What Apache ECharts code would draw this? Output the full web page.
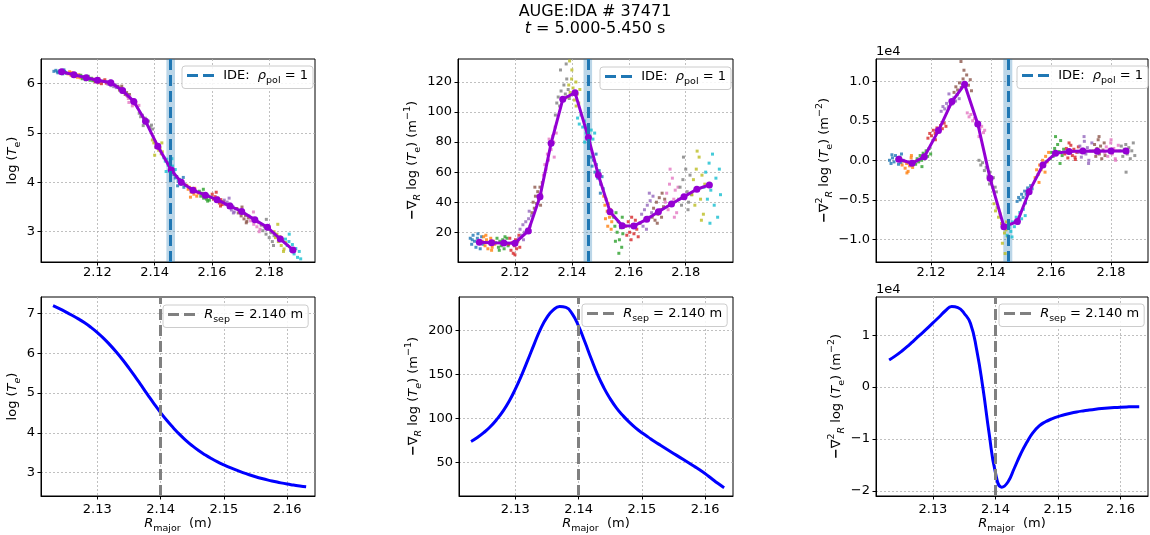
<!DOCTYPE html>
<html><head><meta charset="utf-8">
<script src="https://cdn.jsdelivr.net/npm/echarts@6/dist/echarts.min.js"></script>
<style>html,body{margin:0;padding:0;background:#fff}#c{width:1150px;height:535px}</style>
</head><body><div id="c"></div>
<script>
const FONT = 'DejaVu Sans';
const tab10 = ['#1f77b4','#ff7f0e','#2ca02c','#d62728','#9467bd','#8c564b','#e377c2','#7f7f7f','#bcbd22','#17becf'];

// ---------- top row: measured clouds (one array per channel) ----------
const teCloud = [
[[2.1048,6.25],[2.1055,6.27],[2.1062,6.22],[2.1068,6.26],[2.1074,6.24],[2.1079,6.20],[2.1083,6.28],[2.1088,6.23],[2.1092,6.21],[2.1060,6.24],[2.1085,6.25]],
[[2.1097,6.20],[2.1103,6.24],[2.1108,6.17],[2.1114,6.21],[2.1119,6.15],[2.1124,6.19],[2.1130,6.13],[2.1135,6.18],[2.1140,6.12],[2.1110,6.22]],
[[2.1142,6.17],[2.1147,6.10],[2.1152,6.14],[2.1158,6.08],[2.1163,6.12],[2.1168,6.15],[2.1174,6.07],[2.1179,6.11],[2.1184,6.06],[2.1160,6.13]],
[[2.1187,6.09],[2.1192,6.04],[2.1198,6.07],[2.1203,6.02],[2.1209,6.06],[2.1214,6.00],[2.1220,6.05],[2.1226,6.08],[2.1231,6.01],[2.1205,6.10]],
[[2.1232,6.04],[2.1237,5.99],[2.1242,6.02],[2.1247,5.96],[2.1252,6.01],[2.1257,5.94],[2.1262,5.98],[2.1266,5.92],[2.1270,5.95],[2.1245,6.05]],
[[2.1272,5.94],[2.1277,5.87],[2.1282,5.91],[2.1287,5.83],[2.1292,5.87],[2.1297,5.78],[2.1302,5.82],[2.1307,5.74],[2.1312,5.78],[2.1285,5.95]],
[[2.1302,5.76],[2.1308,5.70],[2.1313,5.74],[2.1319,5.64],[2.1324,5.68],[2.1330,5.58],[2.1335,5.62],[2.1340,5.52],[2.1345,5.56],[2.1322,5.55],[2.1310,5.62]],
[[2.1346,5.40],[2.1351,5.33],[2.1357,5.36],[2.1362,5.26],[2.1367,5.30],[2.1373,5.19],[2.1378,5.24],[2.1384,5.12],[2.1389,5.16],[2.1393,5.08],[2.1360,5.15]],
[[2.1392,4.86],[2.1397,4.80],[2.1401,4.83],[2.1405,4.72],[2.1410,4.76],[2.1414,4.65],[2.1419,4.69],[2.1423,4.58],[2.1427,4.62],[2.1400,4.55],[2.1425,4.80]],
[[2.1432,4.50],[2.1437,4.43],[2.1442,4.47],[2.1447,4.35],[2.1452,4.40],[2.1457,4.29],[2.1462,4.33],[2.1467,4.22],[2.1472,4.26],[2.1440,4.22],[2.1460,4.48]],
[[2.1467,4.16],[2.1472,4.09],[2.1477,4.12],[2.1482,4.02],[2.1487,4.06],[2.1492,3.96],[2.1497,4.00],[2.1502,3.90],[2.1507,3.94],[2.1480,3.93],[2.1500,4.10]],
[[2.1512,3.94],[2.1517,3.86],[2.1522,3.90],[2.1527,3.80],[2.1532,3.85],[2.1537,3.76],[2.1542,3.82],[2.1547,3.72],[2.1552,3.78],[2.1525,3.70],[2.1540,3.88]],
[[2.1556,3.82],[2.1561,3.72],[2.1566,3.78],[2.1571,3.68],[2.1576,3.75],[2.1581,3.66],[2.1586,3.73],[2.1591,3.64],[2.1596,3.70],[2.1570,3.86],[2.1585,3.62]],
[[2.1601,3.76],[2.1606,3.66],[2.1611,3.71],[2.1616,3.62],[2.1621,3.68],[2.1626,3.58],[2.1631,3.65],[2.1636,3.55],[2.1641,3.61],[2.1615,3.80],[2.1630,3.52]],
[[2.1643,3.64],[2.1648,3.55],[2.1653,3.60],[2.1658,3.49],[2.1663,3.56],[2.1668,3.44],[2.1673,3.51],[2.1678,3.40],[2.1683,3.47],[2.1660,3.68],[2.1675,3.38]],
[[2.1687,3.47],[2.1692,3.38],[2.1697,3.43],[2.1702,3.32],[2.1707,3.38],[2.1712,3.26],[2.1717,3.33],[2.1722,3.21],[2.1727,3.28],[2.1705,3.50],[2.1720,3.18]],
[[2.1729,3.32],[2.1735,3.22],[2.1740,3.28],[2.1746,3.15],[2.1751,3.24],[2.1757,3.10],[2.1762,3.18],[2.1768,3.05],[2.1773,3.13],[2.1745,3.40],[2.1765,3.00]],
[[2.1772,3.14],[2.1778,3.02],[2.1783,3.10],[2.1789,2.95],[2.1794,3.05],[2.1800,2.88],[2.1806,2.98],[2.1811,2.80],[2.1817,2.92],[2.1790,3.25],[2.1815,2.72]],
[[2.1817,3.00],[2.1822,2.88],[2.1827,2.95],[2.1832,2.80],[2.1837,2.90],[2.1842,2.72],[2.1847,2.84],[2.1852,2.65],[2.1857,2.78],[2.1830,3.15],[2.1850,2.60]],
[[2.1857,2.85],[2.1863,2.72],[2.1869,2.80],[2.1875,2.62],[2.1881,2.74],[2.1887,2.55],[2.1893,2.66],[2.1899,2.48],[2.1905,2.60],[2.1870,2.95],[2.1910,2.45]]
];
const gradCloud = [
[[2.1043,16],[2.1048,12],[2.1053,18],[2.1058,14],[2.1063,10],[2.1068,16],[2.1073,13],[2.1078,9],[2.1083,17],[2.1088,12],[2.1050,15],[2.1070,19]],
[[2.1085,14],[2.1090,17],[2.1095,11],[2.1100,15],[2.1105,9],[2.1110,13],[2.1115,16],[2.1120,10],[2.1125,14],[2.1129,12],[2.1098,18],[2.1118,8]],
[[2.1132,13],[2.1137,16],[2.1142,10],[2.1147,14],[2.1152,11],[2.1157,15],[2.1162,9],[2.1167,13],[2.1172,16],[2.1176,11],[2.1145,8],[2.1165,17]],
[[2.1178,12],[2.1182,16],[2.1186,8],[2.1190,13],[2.1194,6],[2.1198,11],[2.1202,15],[2.1206,9],[2.1210,14],[2.1214,18],[2.1217,10],[2.1200,5]],
[[2.1213,16],[2.1218,22],[2.1223,18],[2.1228,25],[2.1233,20],[2.1238,27],[2.1243,22],[2.1248,29],[2.1253,24],[2.1258,31],[2.1230,15],[2.1250,34]],
[[2.1260,33],[2.1264,40],[2.1268,36],[2.1272,44],[2.1276,39],[2.1280,47],[2.1284,42],[2.1288,50],[2.1292,45],[2.1296,53],[2.1270,50],[2.1290,38]],
[[2.1300,58],[2.1305,65],[2.1309,62],[2.1314,72],[2.1318,68],[2.1323,78],[2.1327,75],[2.1332,84],[2.1336,80],[2.1341,90],[2.1345,86],[2.1320,82],[2.1338,70]],
[[2.1342,98],[2.1347,106],[2.1352,110],[2.1357,104],[2.1362,114],[2.1367,108],[2.1372,118],[2.1377,112],[2.1382,122],[2.1387,115],[2.1391,109],[2.1360,128],[2.1380,132]],
[[2.1384,110],[2.1389,118],[2.1394,113],[2.1399,122],[2.1404,116],[2.1409,108],[2.1414,120],[2.1419,112],[2.1424,106],[2.1428,115],[2.1400,128],[2.1392,134],[2.1415,104]],
[[2.1420,96],[2.1426,92],[2.1432,98],[2.1438,90],[2.1444,94],[2.1450,86],[2.1456,91],[2.1462,84],[2.1468,88],[2.1474,82],[2.1480,86],[2.1445,80]],
[[2.1466,70],[2.1471,64],[2.1476,68],[2.1481,60],[2.1486,65],[2.1491,56],[2.1496,61],[2.1501,52],[2.1506,57],[2.1510,49],[2.1485,72],[2.1500,46]],
[[2.1512,44],[2.1516,38],[2.1520,42],[2.1524,34],[2.1528,39],[2.1532,30],[2.1536,35],[2.1540,27],[2.1544,31],[2.1526,24],[2.1538,22],[2.1518,29]],
[[2.1547,30],[2.1551,24],[2.1555,33],[2.1559,20],[2.1563,27],[2.1567,15],[2.1571,23],[2.1575,10],[2.1579,19],[2.1565,6],[2.1553,14],[2.1577,30]],
[[2.1588,24],[2.1593,18],[2.1598,27],[2.1603,20],[2.1608,15],[2.1613,25],[2.1618,19],[2.1623,28],[2.1628,22],[2.1633,17],[2.1638,26],[2.1610,30]],
[[2.1640,26],[2.1645,32],[2.1650,24],[2.1655,35],[2.1660,28],[2.1665,38],[2.1670,30],[2.1675,41],[2.1680,33],[2.1685,44],[2.1662,22],[2.1672,46]],
[[2.1682,30],[2.1687,36],[2.1692,28],[2.1697,40],[2.1702,32],[2.1707,43],[2.1712,35],[2.1717,46],[2.1722,37],[2.1726,42],[2.1700,26],[2.1715,30]],
[[2.1728,40],[2.1733,46],[2.1738,35],[2.1743,52],[2.1748,38],[2.1753,56],[2.1758,42],[2.1763,48],[2.1768,33],[2.1773,50],[2.1745,62],[2.1760,30]],
[[2.1775,42],[2.1780,50],[2.1785,38],[2.1790,55],[2.1795,44],[2.1800,62],[2.1805,47],[2.1810,40],[2.1815,58],[2.1820,45],[2.1792,70],[2.1808,35]],
[[2.1822,45],[2.1827,55],[2.1832,38],[2.1837,62],[2.1842,48],[2.1847,70],[2.1852,42],[2.1857,58],[2.1862,32],[2.1867,52],[2.1840,74],[2.1855,28]],
[[2.1864,50],[2.1870,60],[2.1876,42],[2.1882,66],[2.1888,48],[2.1894,72],[2.1900,38],[2.1906,56],[2.1912,30],[2.1918,62],[2.1885,26],[2.1922,45]]
];
// second derivative, in units of 1e4 m^-2
const curvCloud = [
[[2.1062,0.00],[2.1067,-0.04],[2.1072,0.03],[2.1077,-0.02],[2.1082,0.06],[2.1087,0.01],[2.1092,-0.05],[2.1097,0.04],[2.1102,0.08],[2.1107,0.00],[2.1070,0.07],[2.1100,-0.03]],
[[2.1099,0.02],[2.1104,-0.06],[2.1109,-0.01],[2.1114,-0.10],[2.1119,-0.04],[2.1124,-0.14],[2.1129,-0.07],[2.1134,0.03],[2.1139,-0.09],[2.1144,-0.02],[2.1120,-0.16],[2.1135,0.06]],
[[2.1149,-0.05],[2.1154,0.02],[2.1159,-0.02],[2.1164,0.06],[2.1169,0.00],[2.1174,0.09],[2.1179,0.03],[2.1184,0.12],[2.1189,0.05],[2.1194,0.15],[2.1199,0.08],[2.1170,-0.08]],
[[2.1190,0.28],[2.1196,0.34],[2.1202,0.31],[2.1208,0.38],[2.1214,0.34],[2.1220,0.41],[2.1226,0.37],[2.1232,0.44],[2.1238,0.40],[2.1244,0.47],[2.1250,0.43],[2.1215,0.26]],
[[2.1234,0.62],[2.1240,0.68],[2.1246,0.65],[2.1252,0.72],[2.1258,0.68],[2.1264,0.76],[2.1270,0.71],[2.1276,0.79],[2.1282,0.75],[2.1288,0.83],[2.1294,0.78],[2.1260,0.84]],
[[2.1277,0.86],[2.1283,0.93],[2.1289,0.89],[2.1295,0.98],[2.1301,0.92],[2.1307,1.03],[2.1313,0.96],[2.1319,1.08],[2.1325,0.95],[2.1331,1.02],[2.1335,0.88],[2.1310,1.14],[2.1300,1.25]],
[[2.1321,0.60],[2.1327,0.55],[2.1333,0.58],[2.1339,0.50],[2.1345,0.53],[2.1351,0.45],[2.1357,0.48],[2.1363,0.40],[2.1369,0.43],[2.1375,0.35],[2.1379,0.38],[2.1360,0.30]],
[[2.1360,0.00],[2.1366,-0.06],[2.1372,-0.03],[2.1378,-0.13],[2.1384,-0.09],[2.1390,-0.20],[2.1396,-0.15],[2.1402,-0.27],[2.1408,-0.22],[2.1414,-0.34],[2.1418,-0.40],[2.1395,-0.30]],
[[2.1410,-0.55],[2.1415,-0.64],[2.1420,-0.60],[2.1425,-0.72],[2.1430,-0.68],[2.1435,-0.80],[2.1440,-0.85],[2.1445,-0.92],[2.1450,-0.88],[2.1455,-0.96],[2.1438,-1.05],[2.1447,-1.18],[2.1452,-0.78]],
[[2.1454,-0.95],[2.1460,-0.85],[2.1466,-0.90],[2.1472,-0.78],[2.1478,-0.84],[2.1484,-0.72],[2.1490,-0.80],[2.1496,-0.66],[2.1502,-0.74],[2.1508,-0.62],[2.1514,-0.70],[2.1470,-0.97]],
[[2.1487,-0.52],[2.1492,-0.47],[2.1497,-0.50],[2.1502,-0.43],[2.1507,-0.47],[2.1512,-0.39],[2.1517,-0.43],[2.1522,-0.35],[2.1527,-0.40],[2.1532,-0.32],[2.1537,-0.36],[2.1515,-0.54]],
[[2.1547,-0.22],[2.1552,-0.12],[2.1557,-0.18],[2.1562,-0.06],[2.1567,-0.12],[2.1572,0.00],[2.1577,-0.07],[2.1582,0.05],[2.1587,-0.02],[2.1592,0.10],[2.1560,-0.28],[2.1580,-0.15]],
[[2.1597,0.02],[2.1602,0.10],[2.1607,0.05],[2.1612,0.15],[2.1617,0.08],[2.1622,0.20],[2.1627,0.11],[2.1632,0.25],[2.1637,0.06],[2.1642,0.14],[2.1615,0.30],[2.1630,-0.04]],
[[2.1646,0.08],[2.1651,0.15],[2.1656,0.03],[2.1661,0.12],[2.1666,0.19],[2.1671,0.06],[2.1676,0.14],[2.1681,0.01],[2.1686,0.10],[2.1691,0.17],[2.1660,0.22],[2.1680,0.04]],
[[2.1691,0.10],[2.1696,0.18],[2.1701,0.04],[2.1706,0.14],[2.1711,0.24],[2.1716,0.08],[2.1721,0.16],[2.1726,0.00],[2.1731,0.12],[2.1736,0.22],[2.1710,0.30],[2.1725,-0.04]],
[[2.1741,0.12],[2.1745,0.20],[2.1749,0.05],[2.1753,0.15],[2.1757,0.26],[2.1761,0.08],[2.1765,0.18],[2.1769,0.02],[2.1773,0.13],[2.1777,0.22],[2.1760,0.30],[2.1780,0.06]],
[[2.1779,0.10],[2.1784,0.17],[2.1789,0.05],[2.1794,0.14],[2.1799,0.22],[2.1804,0.08],[2.1809,0.15],[2.1814,0.02],[2.1819,0.12],[2.1824,0.19],[2.1800,0.26],[2.1815,0.00]],
[[2.1829,0.12],[2.1834,0.18],[2.1839,0.05],[2.1844,0.14],[2.1849,0.20],[2.1854,0.08],[2.1859,0.16],[2.1864,0.02],[2.1869,0.12],[2.1874,0.22],[2.1850,-0.15],[2.1879,0.06]]
];

// fitted profiles (purple)
const fitR = [2.1075,2.1118,2.1161,2.1200,2.1247,2.1288,2.1327,2.1368,2.1411,2.1458,2.1493,2.1534,2.1577,2.1618,2.1663,2.1704,2.1750,2.1794,2.1839,2.1883];
const teFit = [6.24,6.18,6.12,6.07,6.02,5.86,5.64,5.24,4.73,4.25,4.00,3.84,3.74,3.65,3.52,3.41,3.24,3.09,2.85,2.63];
const gradFit = [13.3,13.0,12.9,12.7,20.9,43.7,79.2,108.5,112.9,83.0,58.1,33.7,24.4,24.2,28.6,33.7,38.8,43.7,48.6,51.5];
const curvFitR = [2.1093,2.1137,2.1178,2.1225,2.1270,2.1312,2.1356,2.1397,2.1443,2.1488,2.1527,2.1573,2.1615,2.1660,2.1706,2.1754,2.1800,2.1850];
const curvFit = [0.013,-0.038,0.046,0.376,0.743,0.962,0.460,-0.228,-0.840,-0.776,-0.397,-0.059,0.089,0.110,0.118,0.114,0.118,0.118];

const ideR = 2.1456, ideLo = 2.1441, ideHi = 2.1471;
const rSep = 2.140;

// ---------- bottom row: smooth model ----------
const modR = [2.123,2.124,2.125,2.126,2.127,2.128,2.129,2.130,2.131,2.132,2.133,2.134,2.135,2.136,2.137,2.138,2.139,2.140,2.141,2.142,2.143,2.144,2.145,2.146,2.147,2.148,2.149,2.150,2.151,2.152,2.153,2.154,2.155,2.156,2.157,2.158,2.159,2.160,2.161,2.162,2.163];
const modTe = [7.20,7.125,7.045,6.96,6.87,6.77,6.655,6.525,6.38,6.215,6.035,5.84,5.63,5.41,5.18,4.95,4.725,4.51,4.31,4.13,3.96,3.81,3.675,3.555,3.45,3.355,3.27,3.195,3.125,3.06,3.00,2.945,2.895,2.85,2.81,2.775,2.74,2.71,2.685,2.66,2.64];
const modGrad = [73.5,78,83.5,90,98,107.5,119,133,149,166.5,184.5,201.5,214.5,223,227,226,218.5,204.5,186.5,167.5,149.5,134.5,122,111.5,103,95.5,89,83.5,78.5,73.5,69,64.5,60,55.5,51,46.5,42,37,31.5,26,21];
const modCurv = [0.52,0.60,0.69,0.79,0.90,1.01,1.12,1.235,1.35,1.47,1.55,1.53,1.42,1.23,0.72,-0.02,-0.90,-1.65,-1.93,-1.83,-1.57,-1.30,-1.07,-0.88,-0.75,-0.67,-0.615,-0.57,-0.535,-0.505,-0.48,-0.46,-0.443,-0.428,-0.415,-0.404,-0.395,-0.388,-0.383,-0.38,-0.38];

const topTicksX = [2.12,2.14,2.16,2.18];
const botTicksX = [2.13,2.14,2.15,2.16];
const yTicks = [[3,4,5,6],[20,40,60,80,100,120],[-1,-0.5,0,0.5,1],[3,4,5,6,7],[50,100,150,200],[-2,-1,0,1]];

// ---------- layout ----------
const grids = [
  {left:41, top:59, width:274, height:203},
  {left:458, top:59, width:275, height:203},
  {left:876, top:59, width:272, height:203},
  {left:41, top:297, width:274, height:202},
  {left:459, top:297, width:274, height:202},
  {left:876, top:297, width:272, height:202}
];
const xRanges = [[2.1003,2.1960],[2.1000,2.1966],[2.1017,2.1923],[2.1211,2.1644],[2.1211,2.1644],[2.1209,2.1644]];
const yRanges = [[2.386,6.50],[0.2,135.3],[-1.287,1.282],[2.41,7.42],[11.6,237.7],[-2.10,1.735]];
const yNames = [
  '{n|log (}{it|T}{sub|e}{n|)}',
  '{b|−}{n|∇}{subi|R}{n| log (}{it|T}{sub|e}{n|) (m}{sup|−1}{n|)}',
  '{b|−}{n|∇}{sup|2}{subi|R}{n| log (}{it|T}{sub|e}{n|) (m}{sup|−2}{n|)}',
  '{n|log (}{it|T}{subi|e}{n|)}',
  '{b|−}{n|∇}{subi|R}{n| log (}{it|T}{subi|e}{n|) (m}{sup|−1}{n|)}',
  '{b|−}{n|∇}{sup|2}{subi|R}{n| log (}{it|T}{sub|e}{n|) (m}{sup|−2}{n|)}'
];
const yGaps = [17,35,28,18,35,28];

const rich = {
  n:{fontSize:13, fontFamily:FONT, color:'#000', fontWeight:'normal', lineHeight:20},
  b:{fontSize:13, fontFamily:FONT, color:'#000', fontWeight:'bold', lineHeight:20},
  it:{fontSize:13, fontFamily:FONT, color:'#000', fontWeight:'normal', fontStyle:'italic', lineHeight:20},
  sub:{fontSize:9.5, fontFamily:FONT, color:'#000', fontWeight:'normal', verticalAlign:'bottom', lineHeight:11},
  subi:{fontSize:9.5, fontFamily:FONT, color:'#000', fontWeight:'normal', fontStyle:'italic', verticalAlign:'bottom', lineHeight:11},
  sup:{fontSize:9.5, fontFamily:FONT, color:'#000', fontWeight:'normal', verticalAlign:'top', lineHeight:11}
};

const minus = s => s.replace('-', '−');
const yFmt = [v=>String(v), v=>String(v), v=>minus(v.toFixed(1)), v=>String(v), v=>String(v), v=>minus(String(v))];

const xAxis = grids.map((g,i)=>({
  type:'value', gridIndex:i, min:xRanges[i][0], max:xRanges[i][1],
  axisLine:{show:true, onZero:false, lineStyle:{color:'#000', width:1}},
  axisTick:{show:true, length:3.5, customValues: i<3?topTicksX:botTicksX, lineStyle:{color:'#000'}},
  axisLabel:{customValues: i<3?topTicksX:botTicksX, formatter:v=>v.toFixed(2), fontSize:13, fontFamily:FONT, color:'#000', margin: i<3?4:7},
  splitLine:{show:true, lineStyle:{color:'#b0b0b0', type:[2,2], width:0.8}},
  name: i>=3 ? '{it|R}{sub|major}{n|  (m)}' : '',
  nameLocation:'middle', nameGap:18,
  nameTextStyle:{rich}
}));
const yAxis = grids.map((g,i)=>({
  type:'value', gridIndex:i, min:yRanges[i][0], max:yRanges[i][1],
  axisLine:{show:true, onZero:false, lineStyle:{color:'#000', width:1}},
  axisTick:{show:true, length:3.5, customValues:yTicks[i], lineStyle:{color:'#000'}},
  axisLabel:{customValues:yTicks[i], formatter:yFmt[i], fontSize:13, fontFamily:FONT, color:'#000', margin:6},
  splitLine:{show:true, lineStyle:{color:'#b0b0b0', type:[2,2], width:0.8}},
  name: yNames[i], nameLocation:'middle', nameRotate:90, nameGap:yGaps[i],
  nameTextStyle:{rich}
}));

const series = [];
const clouds = [teCloud, gradCloud, curvCloud];
const fits = [[fitR,teFit],[fitR,gradFit],[curvFitR,curvFit]];
for (let g=0; g<3; g++) {
  series.push({type:'line', name:'band'+g, xAxisIndex:g, yAxisIndex:g, data:[], z:1, silent:true,
    markArea:{silent:true, itemStyle:{color:'rgba(31,119,180,0.3)'}, data:[[{xAxis:ideLo},{xAxis:ideHi}]]}});
  clouds[g].forEach((pts,k)=>series.push({type:'scatter', xAxisIndex:g, yAxisIndex:g, data:pts,
    symbol:'rect', symbolSize:3, itemStyle:{color:tab10[k%10]}, z:2, silent:true}));
  series.push({type:'line', name:'ide'+g, xAxisIndex:g, yAxisIndex:g, data:[], z:3, symbol:'none',
    lineStyle:{color:'#1f77b4', width:3, type:[11,5]}, itemStyle:{color:'#1f77b4'},
    markLine:{silent:true, symbol:'none', precision:5, label:{show:false},
      lineStyle:{color:'#1f77b4', width:3, type:[11,5]}, data:[{xAxis:ideR}]}});
  series.push({type:'line', xAxisIndex:g, yAxisIndex:g, z:4, silent:true,
    data: fits[g][0].map((r,j)=>[r, fits[g][1][j]]),
    lineStyle:{color:'#9400d3', width:3}, itemStyle:{color:'#9400d3'},
    symbol:'circle', symbolSize:7, showSymbol:true});
}
const mods = [modTe, modGrad, modCurv];
for (let g=0; g<3; g++) {
  const gi = g+3;
  series.push({type:'line', xAxisIndex:gi, yAxisIndex:gi, z:3, silent:true, smooth:0.5,
    data: modR.map((r,j)=>[r, mods[g][j]]),
    lineStyle:{color:'#0000ff', width:3}, symbol:'none'});
  series.push({type:'line', name:'sep'+g, xAxisIndex:gi, yAxisIndex:gi, data:[], z:4, symbol:'none',
    lineStyle:{color:'#808080', width:3, type:[11,5]}, itemStyle:{color:'#808080'},
    markLine:{silent:true, symbol:'none', precision:5, label:{show:false},
      lineStyle:{color:'#808080', width:3, type:[11,5]}, data:[{xAxis:rSep}]}});
}

const dashIcon = 'path://M0,0H11V3H0Z M16,0H27V3H16Z';
const legendBase = {orient:'vertical', itemWidth:27, itemHeight:3, padding:[3,5], icon:dashIcon,
  backgroundColor:'rgba(255,255,255,0.85)', borderColor:'#cccccc', borderWidth:1, borderRadius:3,
  selectedMode:false, textStyle:{rich}, z:10};
const ideTxt = () => '{n| IDE:  }{it|ρ}{sub|pol}{n| = 1}';
const sepTxt = () => '{n| }{it|R}{sub|sep}{n| = 2.140 m}';
const legend = [
  Object.assign({}, legendBase, {left:182, top:66, data:['ide0'], formatter:ideTxt}),
  Object.assign({}, legendBase, {left:600, top:67, data:['ide1'], formatter:ideTxt}),
  Object.assign({}, legendBase, {left:1017, top:66, data:['ide2'], formatter:ideTxt}),
  Object.assign({}, legendBase, {left:163, top:305, data:['sep0'], formatter:sepTxt}),
  Object.assign({}, legendBase, {left:582, top:304, data:['sep1'], formatter:sepTxt}),
  Object.assign({}, legendBase, {left:999, top:304, data:['sep2'], formatter:sepTxt})
];

const option = {
  animation:false,
  backgroundColor:'#fff',
  title:{left:595, top:3, textAlign:'center', padding:0,
    text:'{t|AUGE:IDA # 37471}\n{ti|t}{t| = 5.000-5.450 s}',
    textStyle:{fontWeight:'normal', rich:{
      t:{fontSize:16, fontFamily:FONT, color:'#000', fontWeight:'normal', lineHeight:17},
      ti:{fontSize:16, fontFamily:FONT, color:'#000', fontWeight:'normal', fontStyle:'italic', lineHeight:17}}}},
  grid: grids.map(g=>Object.assign({show:true, borderColor:'#000', borderWidth:1, backgroundColor:'transparent'}, g)),
  xAxis, yAxis, series, legend,
  graphic:[
    {type:'text', left:876, top:45, style:{text:'1e4', font:'13px "DejaVu Sans"', fill:'#000'}},
    {type:'text', left:876, top:283, style:{text:'1e4', font:'13px "DejaVu Sans"', fill:'#000'}}
  ]
};
const chart = echarts.init(document.getElementById('c'), null, {renderer:'canvas'});
chart.setOption(option);
</script>
</body></html>
